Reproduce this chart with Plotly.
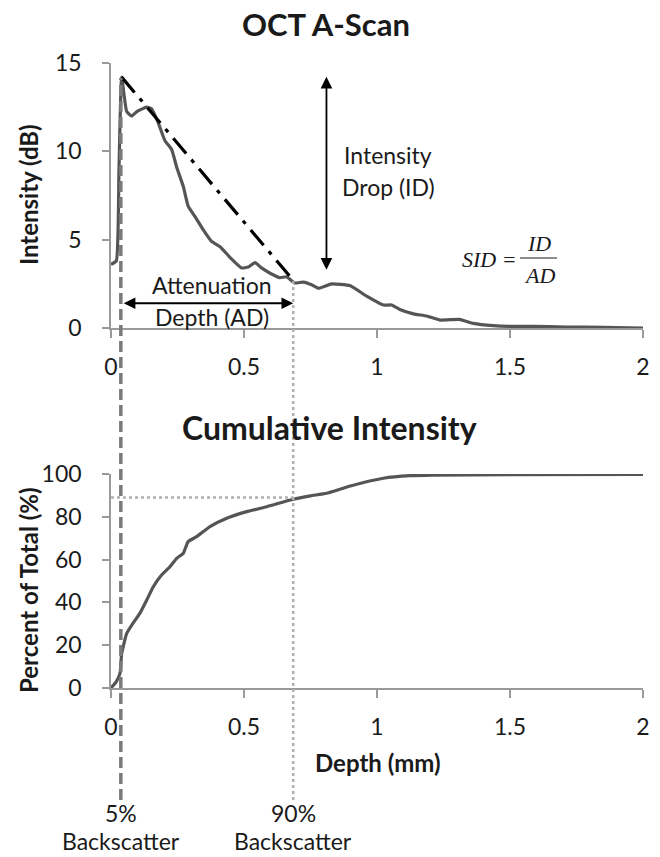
import plotly.graph_objects as go
from plotly.subplots import make_subplots

# ---------------- data ----------------
ascan_depth = [0.0, 0.02, 0.03, 0.04, 0.059, 0.078, 0.097, 0.134, 0.153, 0.178, 0.203, 0.228,
               0.247, 0.272, 0.29, 0.316, 0.347, 0.378, 0.41, 0.447, 0.491, 0.516, 0.541, 0.566,
               0.598, 0.635, 0.66, 0.69, 0.723, 0.754, 0.78, 0.83, 0.898, 0.961, 1.024, 1.055,
               1.086, 1.137, 1.187, 1.237, 1.31, 1.362, 1.437, 1.5, 1.587, 1.712, 1.85, 2.0]
ascan_db = [3.6, 3.8, 9.0, 14.2, 12.25, 12.0, 12.25, 12.5, 12.4, 11.6, 10.6, 10.1,
            9.1, 8.0, 6.9, 6.3, 5.55, 4.9, 4.6, 4.0, 3.4, 3.45, 3.7, 3.4,
            3.1, 2.85, 2.9, 2.55, 2.6, 2.45, 2.25, 2.5, 2.4, 1.8, 1.3, 1.3,
            1.05, 0.8, 0.68, 0.45, 0.49, 0.26, 0.13, 0.09, 0.1, 0.05, 0.04, 0.0]

cum_depth = [0.0, 0.02, 0.034, 0.04, 0.059, 0.078, 0.109, 0.134, 0.159, 0.19, 0.222, 0.247,
             0.272, 0.29, 0.322, 0.372, 0.435, 0.51, 0.585, 0.685, 0.75, 0.81, 0.9, 1.024,
             1.124, 1.21, 1.5, 2.0]
cum_pct = [0.0, 3.0, 6.9, 16.0, 25.5, 29.4, 35.0, 41.0, 47.3, 52.8, 56.7, 60.6,
           63.0, 68.4, 70.7, 75.4, 79.3, 82.4, 84.7, 88.2, 89.8, 91.0, 94.4, 98.0,
           99.2, 99.5, 99.7, 99.8]

x_ticks = [0, 0.5, 1, 1.5, 2]
x_ticklabels = ["0", "0.5", "1", "1.5", "2"]
top_yticks = [0, 5, 10, 15]
bot_yticks = [0, 20, 40, 60, 80, 100]

depth_5pct = 0.037     # 5% backscatter depth (mm)
depth_90pct = 0.685    # 90% backscatter depth (mm)
peak_db = 14.2
ad_end_db = 2.7
cum_90_level = 89.0
id_arrow_x = 0.81
id_top, id_bottom = 14.3, 3.3
ad_arrow_db = 1.4

# ---------------- layout helpers ----------------
W, H = 660, 857
def px(xp):
    return xp / W
def py(yp):
    return 1 - yp / H

FONT = "Lato, 'Open Sans', sans-serif"
TXT = "#1a1a1a"
AXC = "#9a9a9a"
CURVE = "#555555"

fig = make_subplots(rows=2, cols=1)

fig.add_trace(go.Scatter(x=ascan_depth, y=ascan_db, mode="lines",
                         line=dict(color=CURVE, width=3.2, shape="spline", smoothing=0.4),
                         showlegend=False, hoverinfo="skip"), row=1, col=1)
fig.add_trace(go.Scatter(x=cum_depth, y=cum_pct, mode="lines",
                         line=dict(color=CURVE, width=3.2, shape="spline", smoothing=0.4),
                         showlegend=False, hoverinfo="skip"), row=2, col=1)

xdom = [px(111), px(643)]
common_x = dict(range=[0, 2], tickvals=x_ticks, ticktext=x_ticklabels, showline=True,
                linecolor=AXC, linewidth=1.5, ticks="outside", ticklen=8, tickcolor=AXC,
                tickwidth=1.5, showgrid=False, zeroline=False, domain=xdom, automargin=False,
                tickfont=dict(family=FONT, size=23, color=TXT), ticklabelstandoff=10)
common_y = dict(showline=True, linecolor=AXC, linewidth=1.5, ticks="outside", ticklen=7,
                tickcolor=AXC, tickwidth=1.5, showgrid=False, zeroline=False, automargin=False,
                tickfont=dict(family=FONT, size=23, color=TXT), ticklabelstandoff=16)

fig.update_layout(
    template="none",
    width=W, height=H, margin=dict(l=0, r=0, t=0, b=0, autoexpand=False),
    paper_bgcolor="white", plot_bgcolor="white", showlegend=False,
    xaxis=dict(**common_x, anchor="y"),
    yaxis=dict(**common_y, range=[0, 15], tickvals=top_yticks,
               domain=[py(328), py(63)], anchor="x"),
    xaxis2=dict(**common_x, anchor="y2"),
    yaxis2=dict(**common_y, range=[0, 100], tickvals=bot_yticks,
                domain=[py(688), py(474)], anchor="x2"),
)

shapes = []
# dash-dot slope line
shapes.append(dict(type="line", xref="x", yref="y", x0=depth_5pct + 0.003, y0=peak_db,
                   x1=depth_90pct, y1=ad_end_db,
                   line=dict(color="black", width=3.2, dash="20px,8px,4px,8px")))
# 5% dashed vertical line
shapes.append(dict(type="line", xref="x", yref="paper", x0=depth_5pct, x1=depth_5pct,
                   y0=py(800), y1=py(78), line=dict(color="#7a7a7a", width=3.5, dash="11px,5px")))
# 90% dotted vertical line
shapes.append(dict(type="line", xref="x", yref="paper", x0=depth_90pct, x1=depth_90pct,
                   y0=py(800), y1=py(281), line=dict(color="#b0b0b0", width=2.5, dash="3px,3px")))
# horizontal dotted at 90%
shapes.append(dict(type="line", xref="x2", yref="y2", x0=0, x1=depth_90pct,
                   y0=cum_90_level, y1=cum_90_level,
                   line=dict(color="#b0b0b0", width=2.5, dash="3px,3px")))
# fraction bar for SID formula
shapes.append(dict(type="line", xref="paper", yref="paper", x0=px(520), x1=px(557),
                   y0=py(258), y1=py(258), line=dict(color=TXT, width=1.2)))

ann = []
def text(t, x, y, size=23, bold=False, family=FONT, italic=False, **kw):
    s = t
    if bold:
        s = "<b>" + s + "</b>"
    if italic:
        s = "<i>" + s + "</i>"
    d = dict(text=s, x=px(x), y=py(y), xref="paper", yref="paper", showarrow=False,
             xanchor="center", yanchor="middle", font=dict(family=family, size=size, color=TXT))
    d.update(kw)
    ann.append(d)

text("OCT A-Scan", 326, 24, size=31, bold=True)
text("Cumulative Intensity", 329, 428, size=32, bold=True)
text("Intensity (dB)", 28, 195, size=24, bold=True, textangle=-90)
text("Percent of Total (%)", 28, 590, size=24, bold=True, textangle=-90)
text("Depth (mm)", 378, 762, size=24, bold=True)
text("Attenuation", 212, 285, size=23)
text("Depth (AD)", 212, 317, size=23)
text("Intensity", 388, 155, size=23)
text("Drop (ID)", 388, 187, size=23)
text("5%", 121, 813, size=23)
text("Backscatter", 121, 841, size=23)
text("90%", 293, 813, size=23)
text("Backscatter", 293, 841, size=23)
SERIF = "'Liberation Serif', 'Times New Roman', serif"
text("SID =", 489, 259, size=22, family=SERIF, italic=True)
text("ID", 539, 243, size=22, family=SERIF, italic=True)
text("AD", 539, 275, size=22, family=SERIF, italic=True)

# double-headed arrows
ann.append(dict(x=depth_90pct, y=ad_arrow_db, ax=depth_5pct + 0.005, ay=ad_arrow_db,
                xref="x", yref="y", axref="x", ayref="y", text="", showarrow=True,
                arrowhead=2, startarrowhead=2, arrowside="end+start", arrowsize=1.3,
                startarrowsize=1.3, arrowwidth=1.8, arrowcolor="black"))
ann.append(dict(x=id_arrow_x, y=id_bottom, ax=id_arrow_x, ay=id_top,
                xref="x", yref="y", axref="x", ayref="y", text="", showarrow=True,
                arrowhead=2, startarrowhead=2, arrowside="end+start", arrowsize=1.3,
                startarrowsize=1.3, arrowwidth=1.8, arrowcolor="black"))

fig.update_layout(shapes=shapes, annotations=ann)
fig.write_html("out.html", config={"displayModeBar": False},
               post_script="document.body.style.margin='0';document.body.style.overflow='hidden';")
